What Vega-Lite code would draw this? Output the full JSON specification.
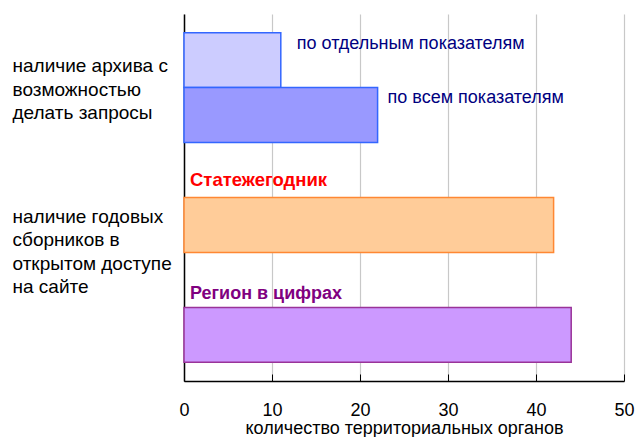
{
  "$schema": "https://vega.github.io/schema/vega-lite/v6.json",
  "width": 440,
  "height": 367,
  "autosize": {"type": "none"},
  "padding": {"left": 184, "top": 14, "right": 12, "bottom": 56},
  "background": "white",
  "config": {"font": "Liberation Sans", "view": {"stroke": null}},
  "data": {
    "values": [
      {"series": "по отдельным показателям", "value": 11},
      {"series": "по всем показателям", "value": 22},
      {"series": "Статежегодник", "value": 42},
      {"series": "Регион в цифрах", "value": 44}
    ]
  },
  "encoding": {
    "y": {
      "field": "series",
      "type": "nominal",
      "scale": {
        "type": "band",
        "domain": ["по отдельным показателям", "по всем показателям", "gap1", "Статежегодник", "gap2", "Регион в цифрах"],
        "paddingInner": 0,
        "paddingOuter": 0.34
      },
      "axis": {
        "title": null,
        "ticks": false,
        "grid": false,
        "domainColor": "#000000",
        "domainWidth": 1.5,
        "labelAlign": "left",
        "labelBaseline": "middle",
        "labelPadding": 172,
        "labelOffset": {"condition": {"test": "datum.value == 'Статежегодник'", "value": -8}, "value": 6},
        "labelFontSize": 19,
        "labelColor": "#000000",
        "labelLineHeight": 23.5,
        "labelLimit": 300,
        "labelExpr": "datum.value == 'по отдельным показателям' ? ['наличие архива с', 'возможностью', 'делать запросы'] : datum.value == 'Статежегодник' ? ['наличие годовых', 'сборников в', 'открытом доступе', 'на сайте'] : ''"
      }
    }
  },
  "layer": [
    {
      "mark": {"type": "bar", "strokeWidth": 1.5},
      "encoding": {
        "x": {
          "field": "value",
          "type": "quantitative",
          "scale": {"domain": [0, 50], "nice": false},
          "axis": {
            "values": [0, 10, 20, 30, 40, 50],
            "grid": true,
            "gridColor": "#C8C8C8",
            "gridWidth": 1.2,
            "tickColor": "#000000",
            "tickSize": -7,
            "domainColor": "#000000",
            "domainWidth": 1.5,
            "labelFontSize": 18,
            "labelColor": "#000000",
            "labelFlush": false,
            "labelPadding": 27,
            "title": "количество территориальных органов",
            "titleFontSize": 18,
            "titleFontWeight": "normal",
            "titleColor": "#000000",
            "titlePadding": 0
          }
        },
        "fill": {
          "field": "series",
          "type": "nominal",
          "scale": {
            "domain": ["по отдельным показателям", "по всем показателям", "Статежегодник", "Регион в цифрах"],
            "range": ["#CCCCFF", "#9999FF", "#FFCC99", "#CC99FF"]
          },
          "legend": null
        },
        "stroke": {
          "field": "series",
          "type": "nominal",
          "scale": {
            "domain": ["по отдельным показателям", "по всем показателям", "Статежегодник", "Регион в цифрах"],
            "range": ["#3366FF", "#3366FF", "#FF8833", "#993399"]
          },
          "legend": null
        }
      }
    },
    {
      "transform": [{"filter": "datum.series == 'по отдельным показателям'"}],
      "mark": {"type": "text", "align": "left", "baseline": "middle", "dx": 16, "dy": -16, "fill": "#000080", "fontSize": 18},
      "encoding": {
        "x": {"field": "value", "type": "quantitative"},
        "text": {"field": "series"}
      }
    },
    {
      "transform": [{"filter": "datum.series == 'по всем показателям'"}],
      "mark": {"type": "text", "align": "left", "baseline": "middle", "dx": 10, "dy": -17, "fill": "#000080", "fontSize": 18},
      "encoding": {
        "x": {"field": "value", "type": "quantitative"},
        "text": {"field": "series"}
      }
    },
    {
      "transform": [{"filter": "datum.series == 'Статежегодник'"}],
      "mark": {"type": "text", "align": "left", "baseline": "middle", "dx": 6, "dy": -45, "fill": "#FF0000", "fontSize": 18.5, "fontWeight": "bold"},
      "encoding": {
        "x": {"datum": 0, "type": "quantitative"},
        "text": {"field": "series"}
      }
    },
    {
      "transform": [{"filter": "datum.series == 'Регион в цифрах'"}],
      "mark": {"type": "text", "align": "left", "baseline": "middle", "dx": 6, "dy": -41, "fill": "#800080", "fontSize": 18, "fontWeight": "bold"},
      "encoding": {
        "x": {"datum": 0, "type": "quantitative"},
        "text": {"field": "series"}
      }
    }
  ]
}
